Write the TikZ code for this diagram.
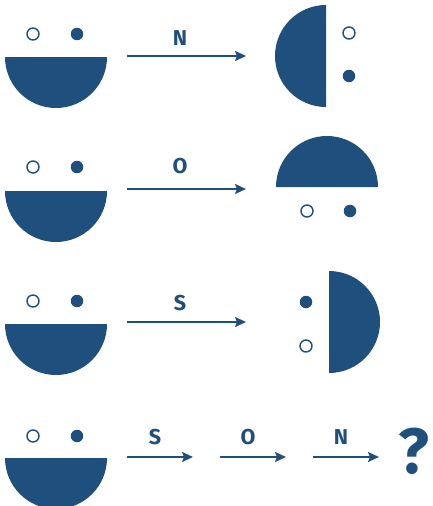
\documentclass[tikz,border=0pt]{standalone}
\usepackage{fontspec}
\setmainfont{Fira Sans}
\usetikzlibrary{arrows.meta}
\definecolor{navy}{HTML}{1F4F7D}
\tikzset{
  half/.style={fill=navy,draw=none},
  dotopen/.style={circle,draw=navy,line width=1.4pt,fill=white,minimum size=12pt,inner sep=0pt},
  dotfull/.style={circle,fill=navy,minimum size=12.5pt,inner sep=0pt},
  arr/.style={draw=navy,line width=1.8pt,-{Stealth[length=11pt,width=10pt,inset=2pt]}},
  lbl/.style={text=navy,font=\fontsize{21.5}{21.5}\selectfont\bfseries,inner sep=0pt},
  qm/.style={text=navy,font=\fontsize{64}{64}\selectfont\bfseries,inner sep=0pt}
}
\begin{document}
\begin{tikzpicture}[x=1pt,y=-1pt]
\useasboundingbox (0,0) rectangle (433,506);
% ---------- row 1 ----------
\fill[half] (5,57) arc[start angle=180,end angle=0,radius=51] -- cycle;
\node[dotopen] (r1o) at (33,34) {};
\node[dotfull] (r1f) at (77,34) {};
\coordinate (r1a) at (127,56);
\coordinate (r1b) at (246,56);
\draw[arr] (r1a) -- (r1b);
\node[lbl] (r1l) at (180,38) {N};
\fill[half] (326,5) arc[start angle=270,end angle=90,radius=51] -- cycle;
\node[dotopen] (r1ro) at (349,33) {};
\node[dotfull] (r1rf) at (349,76) {};
% ---------- row 2 ----------
\fill[half] (5,191) arc[start angle=180,end angle=0,radius=51] -- cycle;
\node[dotopen] (r2o) at (33,167) {};
\node[dotfull] (r2f) at (77,167) {};
\coordinate (r2a) at (127,189);
\coordinate (r2b) at (246,189);
\draw[arr] (r2a) -- (r2b);
\node[lbl] (r2l) at (180,166) {O};
\fill[half] (276,187) arc[start angle=180,end angle=360,radius=51] -- cycle;
\node[dotopen] (r2ro) at (307,211) {};
\node[dotfull] (r2rf) at (350,211) {};
% ---------- row 3 ----------
\fill[half] (5,324) arc[start angle=180,end angle=0,radius=51] -- cycle;
\node[dotopen] (r3o) at (33,301) {};
\node[dotfull] (r3f) at (77,301) {};
\coordinate (r3a) at (127,322);
\coordinate (r3b) at (246,322);
\draw[arr] (r3a) -- (r3b);
\node[lbl] (r3l) at (180,303) {S};
\fill[half] (329,271) arc[start angle=-90,end angle=90,radius=51] -- cycle;
\node[dotfull] (r3rf) at (306,302) {};
\node[dotopen] (r3ro) at (306,346) {};
% ---------- row 4 ----------
\fill[half] (5,458) arc[start angle=180,end angle=0,radius=51] -- cycle;
\node[dotopen] (r4o) at (33,436) {};
\node[dotfull] (r4f) at (77,436) {};
\coordinate (r4a) at (127,457);
\coordinate (r4b) at (193,457);
\coordinate (r4c) at (220,457);
\coordinate (r4d) at (286,457);
\coordinate (r4e) at (313,457);
\coordinate (r4g) at (379,457);
\draw[arr] (r4a) -- (r4b);
\draw[arr] (r4c) -- (r4d);
\draw[arr] (r4e) -- (r4g);
\node[lbl] (r4l1) at (155,437) {S};
\node[lbl] (r4l2) at (248,437) {O};
\node[lbl] (r4l3) at (341,437) {N};
\node[qm] (q) at (414,451) {?};
\end{tikzpicture}
\end{document}
